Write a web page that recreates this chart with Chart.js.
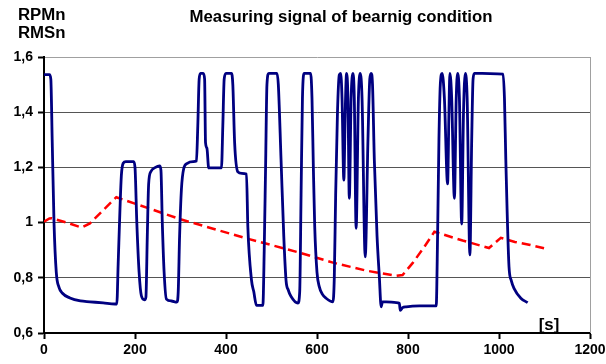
<!DOCTYPE html>
<html>
<head>
<meta charset="utf-8">
<script src="https://cdn.jsdelivr.net/npm/chart.js@4"></script>
<style>
  body { margin: 0; background: #fff; }
  #wrap { width: 606px; height: 364px; }
</style>
</head>
<body>
<div id="wrap"><canvas id="myChart" width="606" height="364"></canvas></div>
<script>
// time [s] / value pairs
const rpmTime = [0, 12, 15, 18, 22, 27, 33, 40, 57, 80, 101, 130, 156, 160, 163, 167, 170, 174, 180, 197, 200, 204, 209, 214, 221, 224, 227, 230, 235, 245, 254, 257, 260, 264, 269, 280, 292, 295, 298, 302, 307, 315, 328, 335, 338, 341, 344, 350, 353, 355, 358, 362, 390, 393, 396, 400, 412, 415, 419, 426, 435, 445, 448, 456, 461, 467, 481, 484, 487, 490, 494, 512, 515, 521, 527, 532, 537, 543, 558, 562, 565, 568, 572, 586, 589, 592, 595, 600, 605, 612, 620, 635, 638, 641, 645, 649, 652, 655, 659, 662, 665, 668, 671, 675, 679, 682, 686, 691, 695, 699, 706, 712, 716, 719, 722, 726, 732, 737, 741, 744, 752, 774, 781, 783, 788, 796, 825, 862, 865, 868, 871, 875, 880, 887, 890, 892, 896, 902, 906, 909, 913, 918, 922, 926, 930, 936, 940, 943, 946, 980, 1009, 1012, 1015, 1022, 1027, 1033, 1048, 1063];
const rpmValue = [1.536, 1.536, 1.52, 1.3, 1.0, 0.82, 0.765, 0.745, 0.727, 0.716, 0.713, 0.709, 0.705, 0.705, 0.85, 1.05, 1.17, 1.215, 1.221, 1.221, 1.2, 1.0, 0.82, 0.735, 0.72, 0.73, 0.95, 1.14, 1.185, 1.2, 1.205, 1.19, 1.0, 0.82, 0.723, 0.716, 0.712, 0.75, 0.95, 1.12, 1.195, 1.215, 1.221, 1.223, 1.35, 1.52, 1.541, 1.541, 1.52, 1.29, 1.27, 1.198, 1.198, 1.35, 1.52, 1.541, 1.541, 1.5, 1.288, 1.184, 1.178, 1.176, 0.985, 0.792, 0.75, 0.70, 0.70, 0.9, 1.2, 1.5, 1.541, 1.541, 1.5, 1.227, 0.95, 0.79, 0.755, 0.732, 0.708, 0.75, 1.1, 1.45, 1.541, 1.541, 1.45, 1.2, 0.985, 0.82, 0.768, 0.74, 0.726, 0.713, 0.8, 1.1, 1.4, 1.535, 1.541, 1.45, 1.154, 1.4, 1.541, 1.45, 1.088, 1.45, 1.541, 1.45, 0.979, 1.45, 1.541, 1.45, 0.876, 1.3, 1.52, 1.541, 1.5, 1.227, 0.95, 0.804, 0.695, 0.713, 0.713, 0.71, 0.708, 0.682, 0.692, 0.695, 0.698, 0.698, 0.95, 1.3, 1.5, 1.541, 1.45, 1.14, 1.4, 1.541, 1.45, 1.088, 1.45, 1.541, 1.45, 0.995, 1.4, 1.541, 1.45, 0.883, 1.3, 1.52, 1.541, 1.54, 1.538, 1.45, 1.227, 0.84, 0.79, 0.762, 0.726, 0.71];

const rmsTime = [0, 12, 17, 50, 83, 101, 130, 159, 300, 445, 562, 635, 708, 774, 788, 810, 835, 858, 920, 978, 1004, 1035, 1066, 1099];
const rmsValue = [1.003, 1.015, 1.016, 1.0, 0.982, 0.997, 1.045, 1.092, 1.012, 0.943, 0.891, 0.855, 0.826, 0.807, 0.81, 0.853, 0.91, 0.967, 0.935, 0.908, 0.945, 0.93, 0.92, 0.907];

const xTickLabels = ["0", "200", "400", "600", "800", "1000", "1200"];
const yTickLabels = ["0,6", "0,8", "1", "1,2", "1,4", "1,6"];

const FONT = "'Liberation Sans', Arial, sans-serif";

const toPoints = (xs, ys) => xs.map((x, i) => ({ x: x, y: ys[i] }));

const extras = {
  id: "extras",
  afterDraw(chart) {
    const c = chart.ctx;
    const a = chart.chartArea;
    c.save();
    // right frame line
    c.strokeStyle = "#a0a0a0";
    c.lineWidth = 1;
    c.beginPath();
    c.moveTo(Math.round(a.right) + 0.5, a.top);
    c.lineTo(Math.round(a.right) + 0.5, a.bottom);
    c.stroke();
    c.fillStyle = "#000";
    c.font = "bold 16.8px " + FONT;
    c.textBaseline = "middle";
    c.textAlign = "left";
    c.fillText("RPMn", 18, 15);
    c.fillText("RMSn", 18, 33);
    c.textAlign = "center";
    c.fillText("Measuring signal of bearnig condition", 341, 17);
    c.fillText("[s]", 549, 325);
    c.restore();
  }
};

const data = {
  datasets: [
    {
      label: "RPMn",
      data: toPoints(rpmTime, rpmValue),
      borderColor: "#000080",
      borderWidth: 2.8,
      pointRadius: 0,
      cubicInterpolationMode: "monotone",
      order: 1
    },
    {
      label: "RMSn",
      data: toPoints(rmsTime, rmsValue),
      borderColor: "#ff0000",
      borderWidth: 2.5,
      borderDash: [9, 5],
      pointRadius: 0,
      order: 2
    }
  ]
};

const config = {
  type: "line",
  data: data,
  options: {
    animation: false,
    responsive: false,
    layout: { padding: { left: 0, right: 16, top: 57, bottom: 0 } },
    plugins: { legend: { display: false }, tooltip: { enabled: false } },
    scales: {
      x: {
        type: "linear",
        min: 0,
        max: 1200,
        ticks: {
          stepSize: 200,
          color: "#000",
          font: { family: FONT, size: 14, weight: "bold" },
          padding: 3,
          maxRotation: 0,
          callback: (v, i) => xTickLabels[i]
        },
        grid: { drawOnChartArea: false, tickLength: 6, tickColor: "#000", tickWidth: 2 },
        border: { color: "#000", width: 2 },
        afterFit(s) { s.height = 31; s.paddingLeft = 0; s.paddingRight = 0; }
      },
      y: {
        min: 0.6,
        max: 1.6,
        ticks: {
          stepSize: 0.2,
          color: "#000",
          font: { family: FONT, size: 14, weight: "bold" },
          padding: 5,
          callback: (v, i) => yTickLabels[i]
        },
        grid: {
          color: (ctx) => (ctx.index === 5 ? "#a0a0a0" : "#555"),
          lineWidth: 1,
          tickLength: 6,
          tickColor: "#000",
          tickWidth: 2
        },
        border: { color: "#000", width: 2 },
        afterFit(s) { s.width = 44; s.paddingTop = 0; s.paddingBottom = 0; }
      }
    }
  },
  plugins: [extras]
};

const myChart = new Chart(document.getElementById("myChart"), config);
</script>
</body>
</html>
